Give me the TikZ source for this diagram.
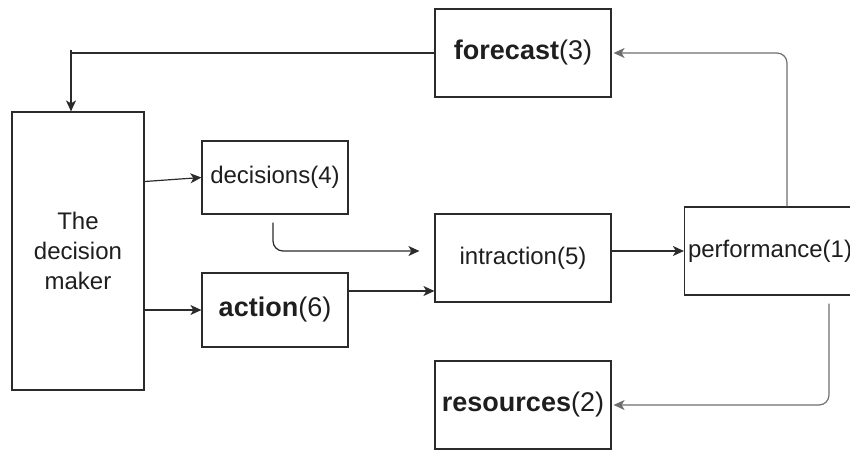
\documentclass[tikz,border=0pt]{standalone}
\usepackage{fontspec}
\setmainfont{Liberation Sans}
\usetikzlibrary{arrows.meta}
\definecolor{boxline}{HTML}{2B2B2B}
\definecolor{linkgray}{HTML}{6E6E6E}
\definecolor{labeltext}{HTML}{1E1E1E}

\begin{document}
\begin{tikzpicture}[x=1pt, y=-1pt, line width=1.2pt,
  blockbox/.style={
    draw=boxline,
    inner sep=0pt,
    text=labeltext,
    align=center,
    font=\fontsize{24}{30}\selectfont
  },
  boldbox/.style={blockbox, font=\fontsize{27}{30}\selectfont},
  link/.style={draw=boxline, -{Stealth[length=11pt,width=10pt,inset=3pt]}},
  graylink/.style={link, draw=linkgray, rounded corners=10pt}
]
  \useasboundingbox (0,0) rectangle (850,450);

  % boxes
  \node[blockbox, minimum width=132pt, minimum height=278pt] (maker) at (78,251) {The\\decision\\maker};
  \node[boldbox, minimum width=176pt, minimum height=88pt] (forecast) at (523,53) {\textbf{forecast}(3)};
  \node[blockbox, minimum width=146pt, minimum height=73pt] (decisions) at (275,177.5) {decisions(4)};
  \node[boldbox, minimum width=146pt, minimum height=74pt] (action) at (275,310) {\textbf{action}(6)};
  \node[blockbox, minimum width=176pt, minimum height=88pt] (intraction) at (523,258) {intraction(5)};
  \node[blockbox, minimum width=187pt, minimum height=88pt, text width=180pt, align=left] (performance) at (778,251) {performance(1)};
  \node[boldbox, minimum width=176pt, minimum height=88pt] (resources) at (523,405) {\textbf{resources}(2)};

  % connectors
  \coordinate (fbend) at (71,53);
  \draw[draw=boxline] (forecast.west) -- (fbend);
  \draw[link] ([yshift=3pt]fbend) -- (fbend |- maker.north);
  \draw[link] ([yshift=-4pt]decisions.west -| maker.east) -- (decisions.west);
  \draw[link] (action.west -| maker.east) -- (action.west);
  \draw[link, rounded corners=10pt] ([xshift=-2pt,yshift=-8pt]decisions.south) |- ([xshift=-15pt,yshift=7pt]intraction.west);
  \draw[link] ([yshift=19pt]action.east) -- ([yshift=19pt]action.east -| intraction.west);
  \draw[link] (intraction.east |- performance.west) -- (performance.west);
  \draw[graylink] ([xshift=9pt]performance.north) |- ([xshift=2pt]forecast.east);
  \draw[graylink] ([xshift=51pt,yshift=-8pt]performance.south) |- ([xshift=2pt]resources.east);
\end{tikzpicture}
\end{document}
